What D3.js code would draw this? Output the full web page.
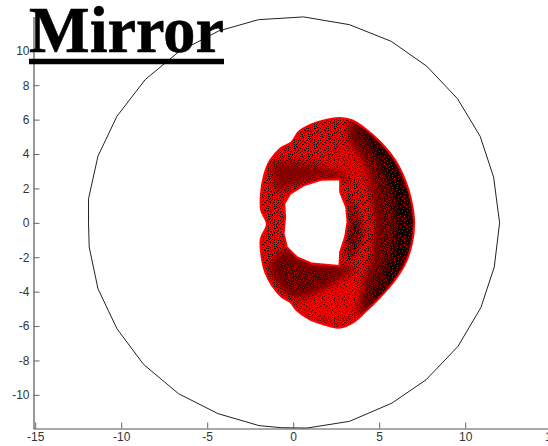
<!DOCTYPE html>
<html>
<head>
<meta charset="utf-8">
<script src="https://cdn.jsdelivr.net/npm/d3@7"></script>
<style>
body { margin: 0; background: #fff; }
svg { display: block; }
</style>
</head>
<body>
<div id="chart"></div>
<script>
// tick labels
var xTicks = [-15, -10, -5, 0, 5, 10, 15];
var yTicks = [-10, -8, -6, -4, -2, 0, 2, 4, 6, 8, 10];

var circle = [[-11.9,0],[-11.9,1.4],[-11.35,3.88],[-10.25,6.19],[-8.6,8.33],[-6.67,9.93],[-4.34,11.15],[-2.02,11.81],[0.6,11.97],
  [3.27,11.52],[5.7,10.55],[7.77,9.1],[9.55,7.22],[10.87,5.03],[11.65,2.66],[12,0],[11.69,-2.57],[10.91,-4.93],[9.58,-7.18],
  [7.73,-9.12],[5.74,-10.48],[3.27,-11.54],[0.8,-11.93],[-0.66,-11.91],[-1.98,-11.79],[-4.38,-11.09],[-6.67,-9.93],[-8.7,-8.23],
  [-10.25,-6.15],[-11.35,-3.83],[-11.86,-1.41]];

// outline of the red point cloud
var outer = [[-0.08,4.7],[0.31,5.28],[1.09,5.73],[1.96,6],[2.73,6.09],[3.41,5.96],[4.19,5.47],[5.06,4.7],[5.93,3.63],[6.51,2.47],
  [6.84,1.4],[7.03,0.05],[6.9,-1.21],[6.51,-2.37],[5.83,-3.44],[5.06,-4.31],[4.28,-5.09],[3.51,-5.77],[2.64,-6.1],[1.76,-5.9],
  [0.89,-5.57],[0.21,-5.09],[-0.17,-4.6],[-0.66,-4.31],[-1.24,-3.63],[-1.63,-2.86],[-1.86,-1.79],[-1.88,-0.92],[-1.53,-0.09],
  [-1.86,0.73],[-1.88,1.6],[-1.69,2.76],[-1.34,3.63],[-0.76,4.31]];
var hole = [[2.73,2.53],[1.67,2.51],[0.6,2.18],[-0.17,1.7],[-0.52,1.11],[-0.47,0.34],[-0.56,-0.63],[-0.37,-1.41],[0.21,-1.99],
  [1.09,-2.37],[2.69,-2.51],[2.73,-1.7],[3.02,-0.82],[3.16,0.05],[3.08,0.92],[2.73,1.79]];

// areas where the points look denser or thinner
var midBand = [[3.31,5.86],[4.19,5.47],[5.06,4.7],[5.93,3.63],[6.51,2.47],[6.84,1.4],[7.03,0.05],[6.9,-1.21],[6.51,-2.37],[5.83,-3.44],
  [5.06,-4.31],[4.28,-5.09],[3.7,-5.28],[4.09,-3.73],[4.67,-2.18],[4.86,-0.05],[4.67,1.7],[4.09,3.44],[3.31,4.99]];
var darkBand = [[3.6,5.8],[4.19,5.47],[5.06,4.7],[5.93,3.63],[6.51,2.47],[6.84,1.4],[7.03,0.05],[6.9,-1.21],[6.51,-2.37],[5.83,-3.44],
  [5.06,-4.31],[4.38,-4.99],[4.57,-4.31],[5.25,-3.15],[5.83,-1.6],[6.03,-0.05],[5.83,1.5],[5.25,3.05],[4.57,4.41]];
var lowerLobe = [[-1.43,-2.57],[-0.56,-3.92],[0.41,-4.41],[1.76,-3.92],[2.73,-3.34],[3.51,-2.76],[2.73,-2.57],[1.09,-2.47],[0.21,-2.08],[-0.47,-1.5]];
var upperFold = [[-1.3,3.5],[0,3.6],[1.5,3.3],[3,3],[3.3,2.4],[1.5,2.6],[0,2.2],[-1,1.8]];
var brightLow = [[-0.08,-4.7],[1.76,-3.92],[2.93,-3.15],[3.7,-2.95],[3.9,-3.93],[3.7,-5.28],[2.64,-5.97],[0.89,-5.48]];
var brightTop = [[2.73,4.6],[4.09,3.83],[4.67,2.08],[3.3,2.6],[2.7,3.0],[1.6,3.2]];
var innerDark = [[3.12,1.7],[3.7,0.53],[3.99,-0.63],[3.6,-1.6],[3.12,-2.38],[3.22,-1.02],[3.41,0.15]];

// stipple tiles for the point texture
var sparseTile = [
  "....#.........#.....",
  "..........#.........",
  ".#.....#.........#..",
  "...............#....",
  "....#......#........",
  ".........#.......#..",
  "#.....#.............",
  "............#....#..",
  "...#.....#..........",
  "................#...",
  ".......#....#.......",
  "..#................#",
  "...........#...#....",
  ".....#..............",
  ".........#.....#....",
  "#...........#.......",
  "....#.............#.",
  "........#...#.......",
  "..#...........#.....",
  "......#...........#."];
var denseTile = [
  "#..#..##...#..#...#.",
  "..#.....#.#.....#...",
  ".#..##....#..##...#.",
  "#.....#.#...#....#..",
  "..##.....#....#.#..#",
  "....#.#....##.....#.",
  ".#.....##.....#.#...",
  "...#.#....#.#....#.#",
  "#.....#.#.....##....",
  "..#.#.....#.#.....#.",
  "....##..#....#.#..#.",
  ".#.....#..##.....#..",
  "#..#.#.....#..#.#...",
  "....#..##.....#...#.",
  ".##.....#.#.#....#..",
  "....#.#.....#.#.#..#",
  "#.#.....##.#.....#..",
  "...#..#.....#.##....",
  ".#...#..#.#......#.#",
  "...#.....#..#.#.#..."];

var width = 548,
	height = 446;

var svg = d3.select('#chart')
		   .append('svg')
		   .attr('width', width)
		   .attr('height', height);

var x = d3.scaleLinear().domain([-15, 15]).range([35.2, 551.2]);
var y = d3.scaleLinear().domain([-11.95, 12]).range([428.4, 16.4]);

var polygon = d3.line()
		  .x(function(d) { return x(d[0]); })
		  .y(function(d) { return y(d[1]); })
		  .curve(d3.curveLinearClosed);

var smooth = d3.line()
		  .x(function(d) { return x(d[0]); })
		  .y(function(d) { return y(d[1]); })
		  .curve(d3.curveCatmullRomClosed.alpha(0.5));

var defs = svg.append('defs');

// builds a red tile with black pixels, optionally with the tile inverted
function addTile(id, rows, invert) {
	var p = defs.append('pattern')
		.attr('id', id)
		.attr('patternUnits', 'userSpaceOnUse')
		.attr('width', rows[0].length)
		.attr('height', rows.length);
	p.append('rect')
		.attr('width', rows[0].length)
		.attr('height', rows.length)
		.attr('fill', '#f00');
	rows.forEach(function(row, j) {
		row.split('').forEach(function(c, i) {
			if ((c === '#') !== invert) {
				p.append('rect')
					.attr('x', i).attr('y', j)
					.attr('width', 1).attr('height', 1)
					.attr('shape-rendering', 'crispEdges')
					.attr('fill', '#000');
			}
		});
	});
}
addTile('sparse', sparseTile, false);
addTile('dense', denseTile, false);
addTile('heavy', denseTile, true);
addTile('dark', sparseTile, true);

defs.append('filter')
	.attr('id', 'soft')
	.attr('x', '-30%').attr('y', '-30%')
	.attr('width', '160%').attr('height', '160%')
	.append('feGaussianBlur')
	.attr('stdDeviation', 4);

var ring = smooth(outer) + polygon(hole);

defs.append('clipPath')
	.attr('id', 'ringClip')
	.append('path')
	.attr('d', ring)
	.attr('clip-rule', 'evenodd');

// mirror circle
svg.append('path')
	.attr('d', polygon(circle))
	.attr('fill', 'none')
	.attr('stroke', '#222')
	.attr('stroke-width', 1);

// axes
var xAxis = d3.axisBottom(x).tickValues(xTicks).tickFormat(d3.format('d'))
	.tickSizeInner(-6).tickSizeOuter(0).tickPadding(4);
var yAxis = d3.axisLeft(y).tickValues(yTicks).tickFormat(d3.format('d'))
	.tickSizeInner(-6).tickSizeOuter(0).tickPadding(4);

[svg.append('g').attr('transform', 'translate(0,428.5)').call(xAxis),
 svg.append('g').attr('transform', 'translate(33.5,0)').call(yAxis)].forEach(function(g) {
	g.selectAll('text')
		.attr('font-family', 'Liberation Sans')
		.attr('font-size', 12)
		.attr('fill', '#333')
		.text(function(d) { return String(d).replace('\u2212', '-'); });
	g.selectAll('line').attr('stroke', '#666');
	g.select('.domain').attr('stroke', '#555').attr('stroke-width', 1.2);
});
svg.select('g').select('.domain').attr('d', 'M33.5,0.5H548');

// the point cloud
svg.append('path')
	.attr('d', ring)
	.attr('fill', 'url(#dense)')
	.attr('fill-rule', 'evenodd');

var regions = [
	{ pts: lowerLobe, tile: 'heavy', alpha: 0.7 },
	{ pts: upperFold, tile: 'heavy', alpha: 0.45 },
	{ pts: midBand, tile: 'heavy', alpha: 0.75 },
	{ pts: darkBand, tile: 'dark', alpha: 0.9 },
	{ pts: brightLow, tile: 'sparse', alpha: 0.8 },
	{ pts: brightTop, tile: 'sparse', alpha: 0.6 },
	{ pts: innerDark, tile: 'dark', alpha: 0.7 }
];

// blurred masks so each area fades into the next one
regions.forEach(function(d, i) {
	defs.append('mask')
		.attr('id', 'fade' + i)
		.attr('maskUnits', 'userSpaceOnUse')
		.attr('x', 0).attr('y', 0)
		.attr('width', width).attr('height', height)
		.append('path')
		.attr('d', polygon(d.pts))
		.attr('fill', '#fff')
		.attr('filter', 'url(#soft)');
});

var shades = svg.append('g').attr('clip-path', 'url(#ringClip)');
shades.selectAll('rect')
	.data(regions)
	.enter()
	.append('rect')
	.attr('width', width)
	.attr('height', height)
	.attr('fill', function(d) { return 'url(#' + d.tile + ')'; })
	.attr('fill-opacity', function(d) { return d.alpha; })
	.attr('mask', function(d, i) { return 'url(#fade' + i + ')'; });

svg.append('path')
	.attr('d', ring)
	.attr('fill', 'none')
	.attr('stroke', '#f00')
	.attr('stroke-width', 2);

// title with its underline
svg.append('text')
	.attr('x', 29)
	.attr('y', 52)
	.attr('font-family', 'Liberation Serif')
	.attr('font-weight', 'bold')
	.attr('font-size', 66)
	.attr('textLength', 195)
	.attr('lengthAdjust', 'spacingAndGlyphs')
	.attr('fill', '#000')
	.attr('stroke', '#000')
	.attr('stroke-width', 0.6)
	.text('Mirror');
svg.append('line')
	.attr('x1', 29).attr('x2', 224)
	.attr('y1', 61.5).attr('y2', 61.5)
	.attr('stroke', '#000')
	.attr('stroke-width', 5.5);
</script>
</body>
</html>
